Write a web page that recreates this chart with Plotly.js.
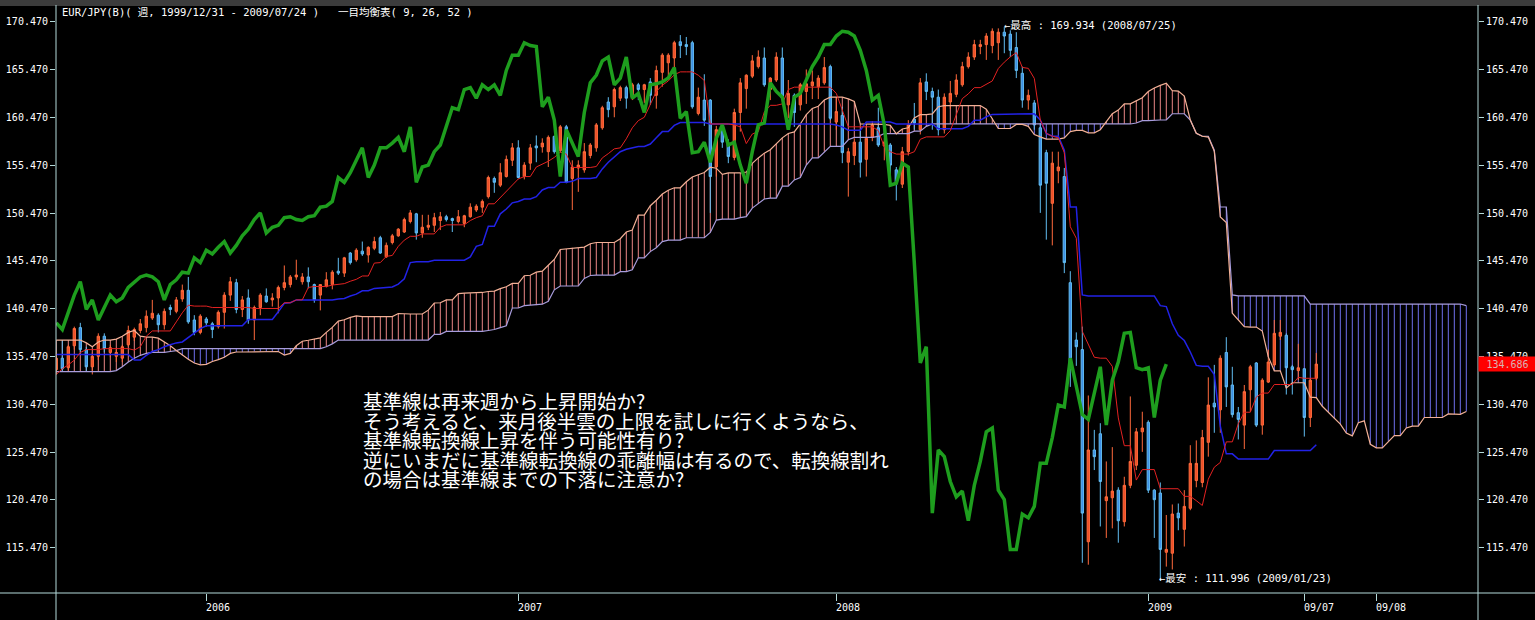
<!DOCTYPE html>
<html><head><meta charset="utf-8">
<script src="https://cdn.plot.ly/plotly-3.0.1.min.js"></script>
<style>html,body{margin:0;padding:0;background:#000;overflow:hidden}#chart{width:1535px;height:620px}</style>
</head><body><div id="chart"></div>
<script>
// Weekly EUR/JPY candles, index 0 = week of 2005/07/15 ... index 210 = 2009/07/24
const openP = [
134.1,135.3,134.3,136.6,138.5,136.2,134.4,135.5,137.6,135.9,
135.5,135.3,136.7,137.5,138.2,138.5,139.5,139.8,138.8,140.6,
140.2,141.5,142.4,139.3,138.0,139.4,138.9,138.6,140.1,141.9,
143.2,140.4,141.6,139.3,140.6,141.8,141.4,141.6,142.7,143.0,
143.8,143.3,143.8,143.0,141.9,142.8,143.0,144.4,144.2,146.3,
145.6,146.5,146.1,146.8,147.9,145.9,147.4,148.1,148.5,149.6,
150.4,148.4,149.0,149.2,149.7,150.1,149.9,149.6,149.4,150.1,
150.8,151.1,152.2,154.1,153.4,154.3,156.0,157.3,154.3,155.7,
157.5,157.4,156.9,158.5,157.0,159.5,154.1,155.2,155.0,156.5,
157.3,159.4,162.1,161.6,162.5,163.6,162.6,163.9,163.4,164.2,
162.8,165.2,166.2,166.7,168.4,168.1,168.3,160.9,162.3,162.3,
155.3,159.2,157.8,156.3,161.0,163.5,164.8,165.8,166.7,163.4,
164.4,166.7,161.8,162.8,161.8,163.2,163.8,163.7,164.1,165.8,
160.0,160.7,155.8,156.5,157.9,156.1,158.4,159.4,157.5,157.6,
155.0,153.5,156.9,160.3,159.2,164.2,163.2,162.6,159.2,162.1,
162.9,163.9,165.8,166.8,167.9,168.1,168.0,168.3,169.4,169.2,
167.8,165.1,162.3,162.0,159.4,156.8,151.5,154.9,154.3,143.2,
137.2,136.2,116.1,125.7,127.4,120.4,120.7,121.5,118.2,122.0,
124.1,127.6,128.6,121.5,121.2,115.0,114.9,119.1,117.4,119.6,
122.5,122.3,126.5,130.6,129.9,135.9,132.5,129.6,128.3,132.0,
134.8,128.3,132.8,134.6,137.6,137.7,134.4,134.0,134.2,129.1,
133.2];
const highP = [
135.9,137.2,136.7,138.6,139.0,136.5,135.9,137.9,137.9,136.7,
136.2,136.7,138.7,138.5,139.4,140.3,141.4,140.0,140.5,140.9,
141.7,143.0,143.8,139.8,139.9,139.6,139.1,140.3,142.2,143.8,
143.6,141.8,142.5,140.8,142.1,142.6,142.1,142.9,145.0,144.0,
145.6,144.2,144.8,143.1,143.0,144.3,144.5,145.8,145.9,146.4,
146.8,147.5,147.0,148.0,148.1,147.4,148.3,148.9,150.0,150.8,
150.5,150.3,150.3,150.5,150.6,150.3,150.0,150.8,150.3,151.5,
151.4,151.9,154.4,154.3,155.7,156.5,157.8,158.1,155.8,157.7,
158.6,158.3,158.6,158.6,159.7,159.7,156.0,156.0,157.8,157.8,
159.9,161.7,162.6,163.6,163.8,163.8,164.1,164.1,164.0,164.6,
165.9,167.2,167.2,168.5,169.1,168.9,168.5,163.6,165.0,162.4,
159.6,159.6,158.2,161.4,164.6,165.0,167.0,167.5,167.8,164.7,
167.3,167.8,164.4,163.0,164.1,165.5,165.4,164.9,166.8,166.0,
162.6,161.6,157.3,158.3,159.2,159.6,160.1,161.5,158.3,157.8,
155.3,157.4,160.2,162.0,164.6,165.1,163.6,163.4,163.0,164.3,
165.0,166.3,167.3,168.6,168.6,169.3,169.8,169.8,169.934,169.6,
169.4,165.8,163.4,162.3,159.9,157.1,156.9,156.9,155.2,144.4,
138.0,138.6,131.4,127.8,128.5,124.5,126.0,121.8,122.9,131.3,
128.0,129.7,128.8,121.6,122.3,118.9,120.0,120.1,121.5,126.2,
126.7,127.8,133.3,134.6,135.6,137.5,134.4,130.2,132.5,134.6,
134.9,133.2,136.2,139.3,139.3,137.9,134.6,136.8,134.2,133.2,
135.85];
const lowP = [
133.6,133.9,134.0,136.2,135.9,133.9,133.6,135.1,135.9,135.4,
134.9,134.9,136.5,137.1,137.9,138.0,139.3,138.0,138.3,139.8,
140.0,141.2,138.9,137.7,137.8,138.6,137.4,138.4,138.4,141.3,
140.0,139.6,138.9,137.2,139.8,141.1,140.7,140.0,142.4,142.7,
143.5,143.0,142.6,141.1,140.3,142.7,142.5,144.0,143.8,145.1,
145.4,146.0,145.3,146.6,146.2,145.8,147.2,148.0,148.4,149.4,
147.7,147.9,148.7,148.5,148.7,149.6,148.5,149.4,149.0,150.0,
150.6,150.5,152.0,152.6,153.2,154.2,155.4,154.1,154.0,155.0,
155.8,156.8,155.3,156.7,156.8,153.6,150.8,152.7,154.7,156.2,
156.9,159.2,160.5,160.5,162.2,161.4,162.3,162.3,162.0,161.8,
161.4,163.7,164.7,165.1,166.7,167.0,161.4,160.7,159.6,150.5,
154.3,157.3,155.7,156.0,159.0,161.4,164.6,165.6,163.7,162.3,
164.2,162.3,160.4,159.5,161.2,161.9,162.4,162.4,163.9,160.2,
159.2,155.7,152.2,155.5,154.2,154.3,158.0,157.4,156.0,154.3,
151.8,153.1,156.5,159.2,158.7,162.3,159.2,158.6,158.8,161.4,
162.6,163.7,165.6,166.5,167.1,166.5,167.2,166.5,167.2,166.8,
164.6,161.5,161.3,159.2,150.5,147.7,147.1,153.6,144.2,132.3,
134.5,113.9,113.7,123.6,117.7,116.5,117.5,116.0,117.7,121.7,
123.6,125.5,121.2,116.5,111.996,113.5,113.2,117.3,115.6,119.4,
121.8,121.8,125.0,127.5,127.5,130.2,129.1,126.8,125.8,129.7,
128.1,127.3,132.7,134.4,137.2,131.5,131.5,133.0,127.1,128.1,
133.0];
const closeP = [
135.3,134.2,136.5,138.4,136.2,134.4,135.5,137.6,136.3,136.4,
135.9,136.5,138.2,138.3,138.9,139.7,140.0,138.8,140.2,140.4,
141.4,142.4,139.1,138.0,139.7,139.0,138.3,140.1,141.9,143.3,
140.4,141.4,139.3,140.6,141.9,141.2,141.6,142.7,143.2,143.8,
144.0,143.8,143.3,141.4,143.0,143.5,144.3,144.2,145.8,145.3,
146.6,146.2,146.9,147.5,146.3,147.1,148.1,148.8,149.8,150.5,
148.4,149.0,149.2,150.0,150.1,149.8,149.7,150.1,150.2,151.1,
151.2,151.7,154.2,153.7,154.7,156.1,157.3,154.2,155.5,157.3,
157.3,157.8,158.4,156.9,159.5,153.7,155.3,155.5,156.9,157.6,
159.7,161.5,161.3,163.4,163.6,162.5,163.9,163.4,163.9,162.8,
165.4,167.0,167.0,168.3,168.0,167.9,161.6,162.6,160.2,154.3,
159.2,157.9,156.4,161.0,164.1,164.9,166.4,166.8,163.9,164.6,
166.8,162.5,163.0,161.0,163.9,164.0,164.2,164.6,165.7,160.4,
161.1,156.8,156.9,157.9,155.8,158.3,159.7,157.6,157.9,155.5,
153.6,156.9,159.7,159.9,164.1,163.2,162.6,159.2,162.6,163.0,
164.4,165.8,166.8,168.1,168.1,169.0,169.5,169.4,169.0,167.5,
165.4,162.3,162.8,159.7,153.4,153.6,155.7,155.3,145.3,134.8,
136.5,119.1,125.7,125.0,122.4,120.8,121.4,118.3,122.0,124.5,
127.6,128.0,121.5,120.5,115.3,115.3,119.0,118.6,119.8,124.3,
124.3,127.0,130.4,130.2,135.3,132.3,129.4,128.9,131.8,134.4,
128.3,133.0,134.9,137.9,138.0,134.3,134.1,134.3,129.1,133.0,
134.686];

// Indicator values before enough history is on the chart
const tenkanEarly = [133.6,134.2,134.6,135.1,135.9,136.2,136.2,136.2];
const kijunEarly = [135.7,135.7,135.7,135.7,135.7,135.7,135.7,135.7,135.7,135.7,135.7,135.7,135.7,
  135.1,135.1,135.6,136.0,136.2,136.5,136.7,136.9,137.0,137.5,137.9,138.4];
const spanAEarly = [137.2,137.2,137.2,137.2,137.2,136.9,136.5,137.0,137.2,137.2,137.3,137.6,138.0,
  138.2,137.6,137.5,137.5,137.4,137.0,136.6,136.1,135.6,135.2,134.8,134.6];
const spanBEarly = [133.9,133.9,133.9,133.9,133.9,133.9,133.9,133.9,133.9,133.9,
  134.0,134.4,134.9,135.3,135.6,135.8,135.9,135.9,135.9,136.0,136.1,
  136.3,136.3,136.3,136.3,136.3,136.3,136.3,136.3,136.3,136.3,136.3,136.3,
  136.3,136.3,136.3,136.3,136.3,136.3,136.3,136.3,136.3,136.3,136.3,136.3,
  136.5,136.8,
  137.2,137.2,137.2,137.2,137.2,137.2,137.2,137.2,137.2,137.2,137.2,137.2,137.2,137.2,137.2,137.2,
  137.8,137.8,
  138.1,138.1,138.1,138.1,138.1,138.1,138.1,
  138.2,138.3,138.5,138.7];

const yTickText = ['115.470','120.470','125.470','130.470','135.470','140.470','145.470','150.470','155.470','160.470','165.470','170.470'];
const xTickPos = [25,77,130,182,208,220];
const xTickText = ['2006','2007','2008','2009','09/07','09/08'];
const extremeDates = {high:'2008/07/25', low:'2009/01/23'};
const headerText = 'EUR/JPY(B)( 週, 1999/12/31 - 2009/07/24 )   一目均衡表( 9, 26, 52 )';
const noteLines = [
 '基準線は再来週から上昇開始か?',
 'そう考えると、来月後半雲の上限を試しに行くようなら、',
 '基準線転換線上昇を伴う可能性有り?',
 '逆にいまだに基準線転換線の乖離幅は有るので、転換線割れ',
 'の場合は基準線までの下落に注意か?'
];

const SHIFT = 25;
const n = closeP.length;
const idx = closeP.map((_, i) => i);
function mid(a, b) { let hi = -Infinity, lo = Infinity; for (let k = a; k <= b; k++) { hi = Math.max(hi, highP[k]); lo = Math.min(lo, lowP[k]); } return (hi + lo) / 2; }
const tenkan = idx.map(i => i >= 8 ? mid(i - 8, i) : tenkanEarly[i]);
const kijun = idx.map(i => i >= 25 ? mid(i - 25, i) : kijunEarly[i]);
const cloudX = [], spanA = [], spanB = [];
for (let p = 0; p < n + SHIFT; p++) {
  cloudX.push(p);
  spanA.push(p < 25 ? spanAEarly[p] : (tenkan[p - 25] + kijun[p - 25]) / 2);
  spanB.push(p < 76 ? spanBEarly[p] : mid(p - 76, p - 25));
}
const chikouX = [], chikouY = [];
for (let p = 0; p + SHIFT < n; p++) { chikouX.push(p); chikouY.push(closeP[p + SHIFT]); }

const axisColor = '#B4DADA';
const monoFont = '"DejaVu Sans Mono", "Noto Sans CJK JP", monospace';
const jpFont = '"Noto Sans CJK JP", sans-serif';
const W = 1422, H = 587; // plot area size in px
const nb = s => s.replace(/ /g, '\u00a0');
const NOTE_SIZE = 19.5, NOTE_PITCH = 19.5;

const shapes = [];
for (let p = 0; p < cloudX.length; p++) {
  shapes.push({type:'line', xref:'x', yref:'y', layer:'below', x0:cloudX[p], x1:cloudX[p], y0:spanA[p], y1:spanB[p],
    line:{color: spanA[p] >= spanB[p] ? '#EC8686' : '#7070EE', width:1}});
}
shapes.push({type:'rect', xref:'paper', yref:'paper', x0:-56/W, x1:1+57/W, y0:1, y1:1+6/H, fillcolor:'#3C3C3C', line:{width:0}});
shapes.push({type:'line', xref:'paper', yref:'paper', x0:-56/W, x1:1+57/W, y0:0, y1:0, line:{color:axisColor, width:1}});
shapes.push({type:'line', xref:'paper', yref:'paper', x0:0, x1:0, y0:-27/H, y1:1+1/H, line:{color:axisColor, width:1}});
shapes.push({type:'line', xref:'paper', yref:'paper', x0:1, x1:1, y0:-27/H, y1:1+1/H, line:{color:axisColor, width:1}});

let iHigh = 0, iLow = 0;
for (let i = 0; i < n; i++) { if (highP[i] > highP[iHigh]) iHigh = i; if (lowP[i] < lowP[iLow]) iLow = i; }

const annotations = [];
annotations.push({xref:'paper', yref:'paper', x:4/W, y:(H+6-12)/H, xanchor:'left', yanchor:'middle', showarrow:false,
  text: nb(headerText), font:{family:monoFont, size:10.5, color:'#FFFFFF'}});
annotations.push({xref:'x', yref:'y', x:iHigh, y:highP[iHigh], xanchor:'left', yanchor:'middle', xshift:-2, yshift:2, showarrow:false,
  text: nb('←最高 : ' + highP[iHigh].toFixed(3) + ' (' + extremeDates.high + ')'), font:{family:monoFont, size:10.5, color:'#FFFFFF'}});
annotations.push({xref:'x', yref:'y', x:iLow, y:lowP[iLow], xanchor:'left', yanchor:'middle', xshift:-3, yshift:3, showarrow:false,
  text: nb('←最安 : ' + lowP[iLow].toFixed(3) + ' (' + extremeDates.low + ')'), font:{family:monoFont, size:10.5, color:'#FFFFFF'}});
// note block: one text, line pitch tightened after drawing
annotations.push({xref:'paper', yref:'paper', x:(362-56-1)/W, y:(593-384)/H, xanchor:'left', yanchor:'top', align:'left',
  showarrow:false, text:noteLines.join('<br>'), font:{family:jpFont, size:NOTE_SIZE, color:'#FFFFFF'}});
xTickText.forEach((t, k) => annotations.push({xref:'x', yref:'paper', x:xTickPos[k], y:-14.5/H, xanchor:'left', yanchor:'middle',
  xshift:-2, showarrow:false, text:t, font:{family:monoFont, size:10, color:'#FFFFFF'}}));
annotations.push({xref:'paper', yref:'y', x:1, y:closeP[n-1], xanchor:'left', yanchor:'middle', showarrow:false,
  text: closeP[n-1].toFixed(3), bgcolor:'#FF0000', borderpad:1, width:55, height:12, align:'center',
  font:{family:monoFont, size:10, color:'#D9B3B3'}});

const yTickVals = yTickText.map(Number);
const yRange = [110.74, 172.14];
const yAxisBase = {range:yRange, showgrid:false, zeroline:false, showline:false, tickmode:'array', tickvals:yTickVals, ticktext:yTickText,
  ticks:'outside', ticklen:5, tickwidth:1, tickcolor:axisColor, tickfont:{family:monoFont, size:10, color:'#FFFFFF'}, fixedrange:true};

const traces = [
  {type:'scatter', mode:'lines', x:cloudX, y:spanB, line:{color:'#A89CDC', width:1.2}, hoverinfo:'skip'},
  {type:'scatter', mode:'lines', x:cloudX, y:spanA, line:{color:'#F2B096', width:1.2}, hoverinfo:'skip'},
  {type:'candlestick', x:idx, open:openP, high:highP, low:lowP, close:closeP, whiskerwidth:0,
    increasing:{line:{color:'#FF6A3C', width:1}, fillcolor:'#EE5028'},
    decreasing:{line:{color:'#62BDF2', width:1}, fillcolor:'#3E8EE6'}, hoverinfo:'skip'},
  {type:'scatter', mode:'lines', x:idx, y:kijun, line:{color:'#2222E6', width:1.5}, hoverinfo:'skip'},
  {type:'scatter', mode:'lines', x:idx, y:tenkan, line:{color:'#E42222', width:1}, hoverinfo:'skip'},
  {type:'scatter', mode:'lines', x:chikouX, y:chikouY, line:{color:'#1E9E1E', width:3.5}, hoverinfo:'skip'},
  {type:'scatter', mode:'markers', x:[0], y:[150], yaxis:'y2', marker:{opacity:0}, hoverinfo:'skip'}
];

const layout = {
  width:1535, height:620, margin:{l:56, r:57, t:6, b:27},
  paper_bgcolor:'#000000', plot_bgcolor:'#000000', showlegend:false, hovermode:false, boxgap:0.45,
  xaxis:{range:[-0.05, 236.95], showgrid:false, zeroline:false, showline:false, showticklabels:false,
    tickmode:'array', tickvals:xTickPos, ticks:'outside', ticklen:7, tickcolor:axisColor, tickwidth:1,
    rangeslider:{visible:false}, fixedrange:true},
  yaxis: Object.assign({side:'left'}, yAxisBase),
  yaxis2: Object.assign({side:'right', overlaying:'y'}, yAxisBase),
  shapes: shapes, annotations: annotations
};
Plotly.newPlot('chart', traces, layout, {staticPlot:true, displayModeBar:false}).then(gd => {
  gd.querySelectorAll('text.annotation-text').forEach(t => {
    if (t.textContent.indexOf(noteLines[0]) === 0) {
      t.querySelectorAll('tspan.line').forEach((ln, k) => ln.setAttribute('dy', (k * NOTE_PITCH / NOTE_SIZE) + 'em'));
    }
  });
});
</script></body></html>
